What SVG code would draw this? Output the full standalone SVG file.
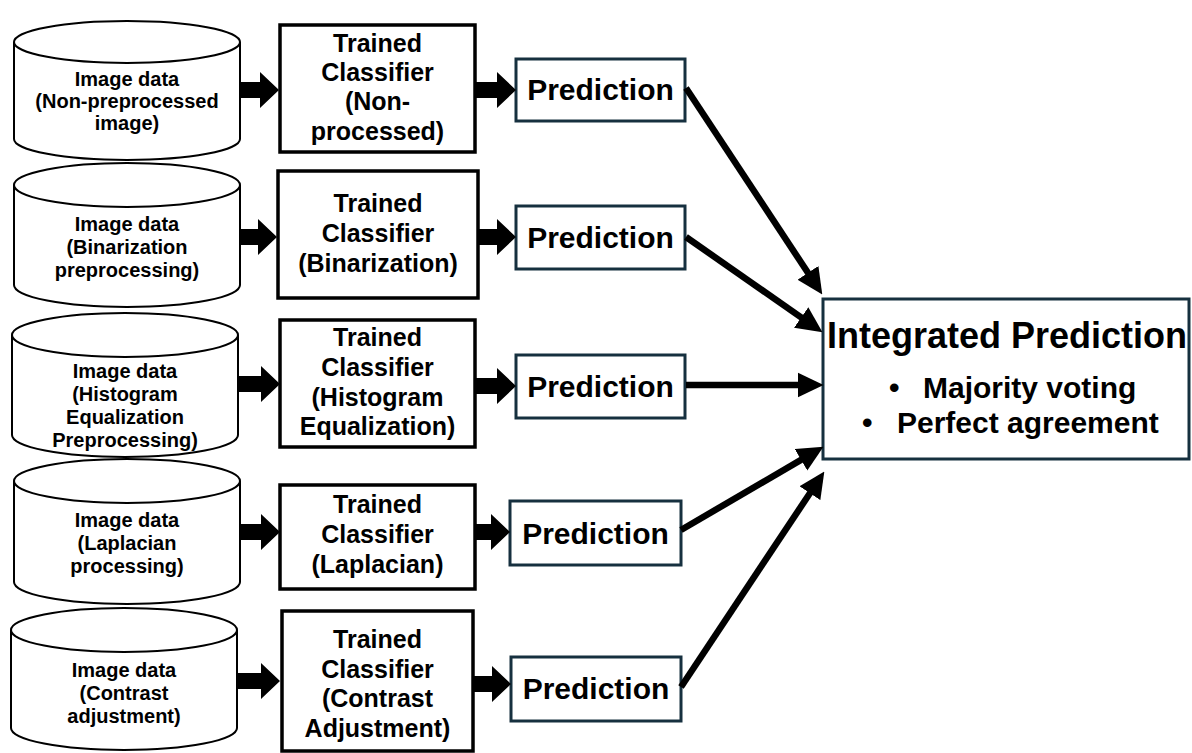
<svg xmlns="http://www.w3.org/2000/svg" width="1192" height="753" viewBox="0 0 1192 753">
<defs>
<style>
.cyl{fill:#fff;stroke:#000;stroke-width:2}
.clf{fill:#fff;stroke:#000;stroke-width:3.5}
.prd{fill:#fff;stroke:#16303f;stroke-width:3}
.blk{fill:#000;stroke:none}
.con{stroke:#000;stroke-width:6.5;fill:none;marker-end:url(#ah)}
text{font-family:"Liberation Sans",Arial,sans-serif;font-weight:700;fill:#000;text-anchor:middle}
.t1{font-size:20px}
.t2{font-size:25px}
.t3{font-size:30px}
.t4{font-size:36px}
.bl{font-size:30px;text-anchor:start}
</style>
<marker id="ah" markerUnits="userSpaceOnUse" markerWidth="26" markerHeight="26" refX="10" refY="12" orient="auto" viewBox="0 0 25 24">
<path d="M0,0 L25,12 L0,24 Z" fill="#000"/>
</marker>
</defs>
<rect width="1192" height="753" fill="#fff"/>

<g id="data1">
<path class="cyl" d="M14,42 A113,21 0 0 1 240,42 V139 A113,21 0 0 1 14,139 Z"/>
<path class="cyl" d="M14,42 A113,21 0 0 0 240,42"/>
<text class="t1" x="127" y="86">Image data</text>
<text class="t1" x="127" y="108">(Non-preprocessed</text>
<text class="t1" x="127" y="130">image)</text>
</g>
<g id="data2">
<path class="cyl" d="M14,185 A113,22 0 0 1 240,185 V285 A113,22 0 0 1 14,285 Z"/>
<path class="cyl" d="M14,185 A113,22 0 0 0 240,185"/>
<text class="t1" x="127" y="231">Image data</text>
<text class="t1" x="127" y="254">(Binarization</text>
<text class="t1" x="127" y="277">preprocessing)</text>
</g>
<g id="data3">
<path class="cyl" d="M12,335 A113,22 0 0 1 238,335 V435 A113,22 0 0 1 12,435 Z"/>
<path class="cyl" d="M12,335 A113,22 0 0 0 238,335"/>
<text class="t1" x="125" y="378">Image data</text>
<text class="t1" x="125" y="401">(Histogram</text>
<text class="t1" x="125" y="424">Equalization</text>
<text class="t1" x="125" y="447">Preprocessing)</text>
</g>
<g id="data4">
<path class="cyl" d="M14,481 A113,22 0 0 1 240,481 V582 A113,22 0 0 1 14,582 Z"/>
<path class="cyl" d="M14,481 A113,22 0 0 0 240,481"/>
<text class="t1" x="127" y="527">Image data</text>
<text class="t1" x="127" y="550">(Laplacian</text>
<text class="t1" x="127" y="573">processing)</text>
</g>
<g id="data5">
<path class="cyl" d="M11,630 A113,22 0 0 1 237,630 V728 A113,22 0 0 1 11,728 Z"/>
<path class="cyl" d="M11,630 A113,22 0 0 0 237,630"/>
<text class="t1" x="124" y="677">Image data</text>
<text class="t1" x="124" y="700">(Contrast</text>
<text class="t1" x="124" y="723">adjustment)</text>
</g>

<g id="clf1">
<rect class="clf" x="280" y="25" width="195" height="127"/>
<text class="t2" x="377.5" y="52">Trained</text>
<text class="t2" x="377.5" y="81">Classifier</text>
<text class="t2" x="377.5" y="110">(Non-</text>
<text class="t2" x="377.5" y="140">processed)</text>
</g>
<g id="clf2">
<rect class="clf" x="278" y="171" width="200" height="127"/>
<text class="t2" x="378" y="212">Trained</text>
<text class="t2" x="378" y="242">Classifier</text>
<text class="t2" x="378" y="272">(Binarization)</text>
</g>
<g id="clf3">
<rect class="clf" x="280" y="320" width="195" height="127"/>
<text class="t2" x="377.5" y="346">Trained</text>
<text class="t2" x="377.5" y="376">Classifier</text>
<text class="t2" x="377.5" y="406">(Histogram</text>
<text class="t2" x="377.5" y="435">Equalization)</text>
</g>
<g id="clf4">
<rect class="clf" x="280" y="485" width="195" height="104"/>
<text class="t2" x="377.5" y="513">Trained</text>
<text class="t2" x="377.5" y="543">Classifier</text>
<text class="t2" x="377.5" y="573">(Laplacian)</text>
</g>
<g id="clf5">
<rect class="clf" x="282" y="611" width="191" height="140"/>
<text class="t2" x="377.5" y="648">Trained</text>
<text class="t2" x="377.5" y="678">Classifier</text>
<text class="t2" x="377.5" y="707">(Contrast</text>
<text class="t2" x="377.5" y="737">Adjustment)</text>
</g>

<g id="pred1">
<rect class="prd" x="516" y="59" width="169" height="62"/>
<text class="t3" x="600.5" y="100">Prediction</text>
</g>
<g id="pred2">
<rect class="prd" x="516" y="206" width="169" height="63"/>
<text class="t3" x="600.5" y="248">Prediction</text>
</g>
<g id="pred3">
<rect class="prd" x="516" y="355" width="169" height="63"/>
<text class="t3" x="600.5" y="397">Prediction</text>
</g>
<g id="pred4">
<rect class="prd" x="510" y="501" width="171" height="64"/>
<text class="t3" x="595.5" y="544">Prediction</text>
</g>
<g id="pred5">
<rect class="prd" x="511" y="657" width="170" height="64"/>
<text class="t3" x="596" y="699">Prediction</text>
</g>

<g id="integrated">
<rect class="prd" x="823" y="299" width="366" height="160"/>
<text class="t4" x="1007" y="348">Integrated Prediction</text>
<text class="bl" y="398"><tspan x="889">•</tspan><tspan x="923">Majority voting</tspan></text>
<text class="bl" y="433"><tspan x="862">•</tspan><tspan x="897">Perfect agreement</tspan></text>
</g>

<g id="connectors">
<path class="blk" d="M240,82 H260 V72 L279,90 L260,108 V98 H240 Z"/>
<path class="blk" d="M476,82 H497 V72 L516,90 L497,108 V98 H476 Z"/>
<path class="blk" d="M240,229 H258 V219 L277,237 L258,255 V245 H240 Z"/>
<path class="blk" d="M479,229 H497 V219 L516,237 L497,255 V245 H479 Z"/>
<path class="blk" d="M239,376 H261 V366 L280,384 L261,402 V392 H239 Z"/>
<path class="blk" d="M476,378 H497 V368 L516,386 L497,404 V394 H476 Z"/>
<path class="blk" d="M240,524 H261 V514 L280,532 L261,550 V540 H240 Z"/>
<path class="blk" d="M476,524 H491 V514 L510,532 L491,550 V540 H476 Z"/>
<path class="blk" d="M237,673 H261 V663 L280,681 L261,699 V689 H237 Z"/>
<path class="blk" d="M474,676 H492 V666 L511,684 L492,702 V692 H474 Z"/>
<line class="con" x1="686" y1="88" x2="813.7" y2="281.5"/>
<line class="con" x1="686" y1="237" x2="809.7" y2="323.4"/>
<line class="con" x1="686" y1="385" x2="808" y2="385"/>
<line class="con" x1="681" y1="530" x2="810" y2="454.6"/>
<line class="con" x1="681" y1="687" x2="815.7" y2="484.5"/>
</g>
</svg>
